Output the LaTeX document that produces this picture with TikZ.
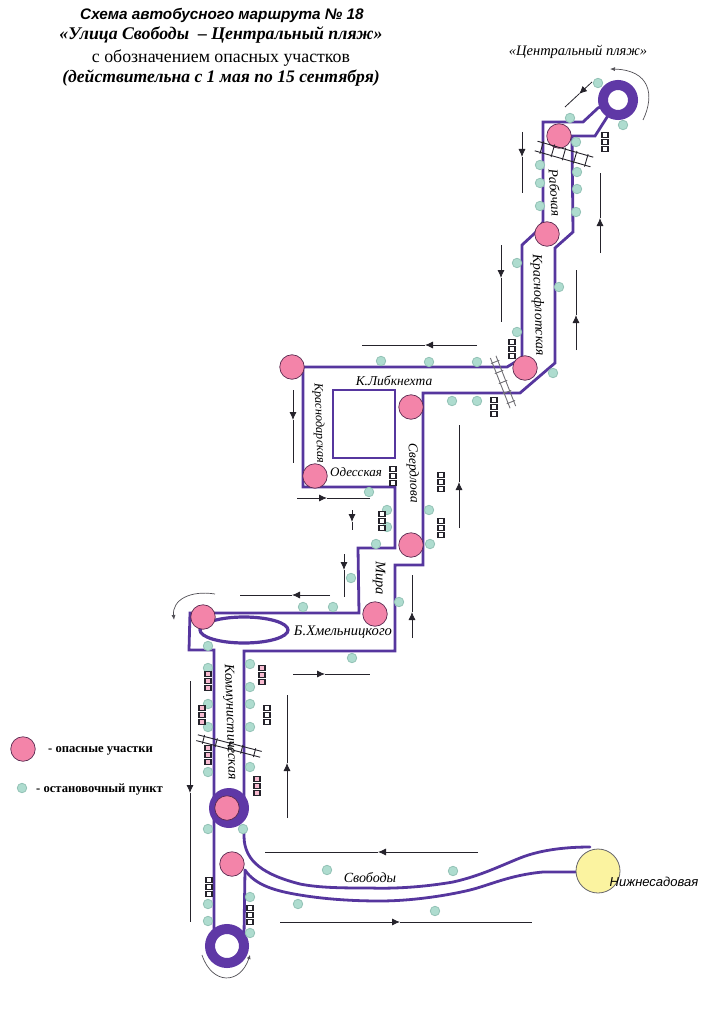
\documentclass[tikz,border=0pt]{standalone}
\usepackage{fontspec}
\setmainfont{Liberation Serif}
\newfontfamily\hsans{Liberation Sans}
\usetikzlibrary{arrows.meta,shapes.geometric}
\definecolor{route}{HTML}{56369E}
\definecolor{ringc}{HTML}{5F38A6}
\definecolor{pinkc}{HTML}{F384A9}
\definecolor{pinkl}{HTML}{5A2A50}
\definecolor{stopc}{HTML}{AEDCCF}
\definecolor{stopl}{HTML}{93C2B6}
\definecolor{yellowc}{HTML}{FBF3A0}
\definecolor{inkc}{HTML}{25232B}
\newcommand{\fs}[1]{\fontsize{#1}{#1}\selectfont}
\newcommand{\flow}[3]{\draw[flowline,-{Latex[length=8pt,width=7pt]}] (#1) -- (#2); \draw[flowline] (#2) -- (#3);}
\newcommand{\railx}[6]{%
  \begin{scope}[shift={(#1,#2)},rotate=#3,xscale=1,yscale=1]
    \draw[railline,draw=#6] (-#4,-#5) -- (#4,-#5);
    \draw[railline,draw=#6] (-#4,#5) -- (#4,#5);
    \foreach \t in {-0.8,-0.4,0,0.4,0.8} \draw[railline,draw=#6] ({\t*#4},{-#5-1.5}) -- ({\t*#4},{#5+1.5});
  \end{scope}}
\tikzset{
  x=1pt,y=-1pt,
  routeline/.style={draw=route,line width=2.8pt,line join=miter,line cap=round},
  danger/.style={circle,draw=pinkl,line width=0.7pt,fill=pinkc,minimum size=24.5pt,inner sep=0pt},
  stopn/.style={circle,draw=stopl,line width=0.8pt,fill=stopc,minimum size=9.5pt,inner sep=0pt},
  ringn/.style={circle,draw=ringc,line width=10pt,fill=white,inner sep=0pt},
  flowline/.style={draw=inkc,line width=0.8pt},
  railline/.style={draw=inkc,line width=0.9pt},
  lbl/.style={inner sep=0pt,font=\itshape\fs{13.5}},
  tl/.pic={\foreach \d in {-7,0,7} \draw[draw=inkc,line width=1.1pt,fill=white] (-3,\d-2.8) rectangle (3,\d+2.8);},
  tls/.pic={\foreach \d in {-7,0,7} \draw[draw=inkc,line width=1.1pt,fill=pinkc!55] (-3,\d-2.6) rectangle (3,\d+2.6);}
}
\begin{document}
\begin{tikzpicture}
\useasboundingbox (0,0) rectangle (713,1011);
% routes
\draw[routeline] (618,100) -- (598,108) -- (583,122) -- (543,122) -- (543,222) -- (535,233) -- (522,245) -- (522,358) -- (507,367) -- (303,367) -- (303,487) -- (395,487) -- (395,548) -- (358,548) -- (359,613) -- (190,613) -- (189,650) -- (214,650) -- (214,940);
\draw[routeline] (618,100) -- (595,136) -- (572,136) -- (573,232) -- (555,248) -- (555,363) -- (520,393) -- (423,393) -- (423,565) -- (395,565) -- (395,651) -- (244,651) -- (244,800);
\draw[routeline] (244,830) -- (244,836) .. controls (244,862) and (265,875) .. (300,884) .. controls (320,888) and (345,888) .. (370,888) .. controls (400,889) and (430,886) .. (453,882) .. controls (480,876) and (500,866) .. (520,858) .. controls (540,850) and (565,847) .. (590,847);
\draw[routeline] (245,870) .. controls (255,885) and (275,891) .. (300,895) .. controls (330,900) and (360,901) .. (380,901) .. controls (410,901) and (445,896) .. (470,890) .. controls (490,885) and (510,875) .. (543,872) -- (578,872);
\draw[routeline] (245,870) -- (244,935);
\draw[draw=route,line width=2.7pt] (333,390) rectangle (395,458);
\node[ellipse,draw=route,line width=3.2pt,minimum width=88pt,minimum height=26pt,inner sep=0pt] (loop) at (244,630) {};
% rings
\node[ringn,minimum size=30pt] (topring) at (618,100) {};
\node[ringn,minimum size=34pt] (botring) at (227,946) {};
\node[circle,fill=ringc,minimum size=40pt,inner sep=0pt] (midring) at (229,808) {};
\node[circle,fill=yellowc,draw=inkc!70,line width=0.8pt,minimum size=44pt,inner sep=0pt] (lower) at (598,871) {};
% danger points
\foreach \x/\y [count=\i] in {559/136,547/234,525/368,292/367,411/407,315/476,411/545,375/614,203/617,227/808,232/864,23/749}
  \node[danger] (d\i) at (\x,\y) {};
% stops
\foreach \x/\y [count=\i] in {598/83,570/118,623/125,576/142,540/165,577/172,540/183,577/189,540/206,576/212,517/263,559/287,517/332,553/373,381/361,429/362,477/362,452/401,477/401,369/492,387/510,387/527,376/544,429/510,430/544,351/578,303/607,333/607,399/602,208/646,352/658,250/664,208/668,250/687,208/704,250/704,208/727,250/727,250/767,208/772,208/829,243/829,327/870,250/897,298/904,208/904,208/921,250/933,453/871,435/911,22/788}
  \node[stopn] (s\i) at (\x,\y) {};
% traffic lights
\foreach \x/\y in {605/142,512/349,494/407,393/476,441/482,441/528,382/521,267/715,250/915,209/887}
  \pic at (\x,\y) {tl};
\foreach \x/\y in {262/675,208/681,202/715,208/755,257/786}
  \pic at (\x,\y) {tls};
% crossings
\railx{564}{154}{-16}{29}{5}{inkc}
\railx{503}{382}{-68.6}{27}{3}{inkc!65}
\railx{229}{746}{-14.6}{33}{3}{inkc}
% flow arrows
\flow{592,82}{579,94}{565,107}
\flow{522,132}{522,157}{522,193}
\flow{600,253}{600,218}{600,173}
\flow{501,245}{501,278}{501,322}
\flow{576,350}{576,315}{576,270}
\flow{477,345}{425,345}{362,345}
\flow{293,390}{293,420}{293,463}
\flow{459,528}{459,482}{459,425}
\flow{297,498}{327,498}{370,498}
\flow{352,510}{352,522}{352,530}
\flow{344,554}{344,570}{344,597}
\flow{330,595}{292,595}{240,595}
\flow{412,638}{412,612}{412,575}
\flow{293,674}{325,674}{370,674}
\flow{190,681}{190,793}{190,922}
\flow{287,818}{287,763}{287,695}
\flow{478,852}{378,852}{265,852}
\flow{280,922}{400,922}{532,922}
% turning arrows
\draw[draw=inkc!80,line width=0.7pt,-{Latex[length=5pt,width=4pt]}] (643,120) .. controls (655,95) and (650,70) .. (610,69);
\draw[draw=inkc!80,line width=0.7pt,-{Latex[length=5pt,width=4pt]}] (215,594) .. controls (190,590) and (172,600) .. (174,620);
\draw[draw=inkc!80,line width=0.7pt,-{Latex[length=4pt,width=4pt]}] (202,955) .. controls (212,985) and (240,985) .. (250,955);
% title
\node[inner sep=0pt,font=\hsans\bfseries\itshape\fs{15.3}] (t1) at (222,15) {Схема автобусного маршрута № 18};
\node[inner sep=0pt,font=\bfseries\itshape\fs{17.8}] (t2) at (221,35) {«Улица Свободы \ – Центральный пляж»};
\node[inner sep=0pt,font=\fs{17.8}] (t3) at (221,58) {с обозначением опасных участков};
\node[inner sep=0pt,font=\bfseries\itshape\fs{17.6}] (t4) at (221,78) {(действительна с 1 мая по 15 сентября)};
% labels
\node[lbl,font=\itshape\fs{14.5}] (beach) at (578,52) {«Центральный пляж»};
\node[lbl,rotate=-86] (n1) at (555,193) {Рабочая};
\node[lbl,font=\itshape\fs{13.8},rotate=-88] (n2) at (538,305) {Краснофлотская};
\node[lbl] (n3) at (394,381) {К.Либкнехта};
\node[lbl,font=\itshape\fs{12.4},rotate=-88] (n4) at (319,423) {Краснодарская};
\node[lbl,font=\itshape\fs{13}] (n5) at (356,472) {Одесская};
\node[lbl,rotate=-88] (n6) at (413,473) {Свердлова};
\node[lbl,font=\itshape\fs{14.5},rotate=-90] (n7) at (379,578) {Мира};
\node[lbl,font=\itshape\fs{14.6}] (n8) at (343,632) {Б.Хмельницкого};
\node[lbl,font=\itshape\fs{14},rotate=-88] (n9) at (230,722) {Коммунистическая};
\node[lbl,font=\itshape\fs{14}] (n10) at (370,878) {Свободы};
\node[inner sep=0pt,font=\hsans\itshape\fs{13}] (n11) at (654,882) {Нижнесадовая};
% legend
\node[inner sep=0pt,anchor=west,font=\bfseries\fs{12.6}] (l1) at (48,751) {- опасные участки};
\node[inner sep=0pt,anchor=west,font=\bfseries\fs{12.6}] (l2) at (36,790) {- остановочный пункт};
\end{tikzpicture}
\end{document}
